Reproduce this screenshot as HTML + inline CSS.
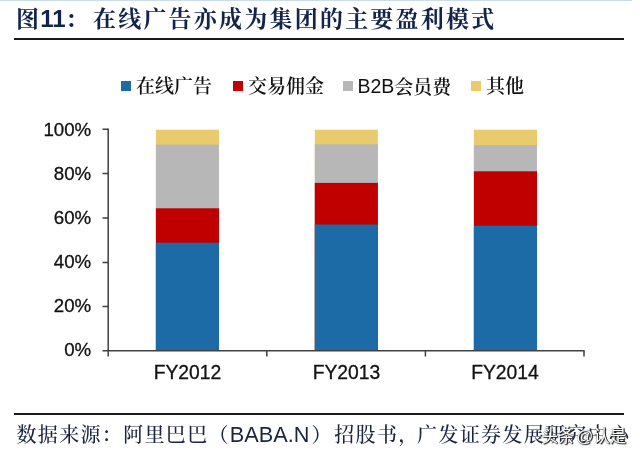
<!DOCTYPE html>
<html lang="zh-CN">
<head>
<meta charset="utf-8">
<title>图11：在线广告亦成为集团的主要盈利模式</title>
<style>
  html, body { margin: 0; padding: 0; background: #fff; }
  body { width: 640px; height: 458px; position: relative; overflow: hidden;
         font-family: "Liberation Sans", "Noto Serif CJK SC", serif; }
  .abs { position: absolute; white-space: nowrap; }
  .topband { left: 0; top: 0; width: 632px; height: 1px; background: #c9dde6; }
  .title { left: 16px; top: 3px; height: 32px; line-height: 32px; font-size: 23px; font-weight: 700;
           color: #13244c; letter-spacing: 2.22px; }
  .title .num { font-size: 24px; letter-spacing: 0; margin-left: -1px; }
  .title .col { margin-left: -0.4px; margin-right: 2.5px; }
  .rule { left: 13.5px; width: 610.5px; background: #1a1a1a; }
  .legend { top: 75px; height: 24px; line-height: 24px; font-size: 19px; font-weight: 600; color: #111; }
  .legend .en { font-size: 19.5px; font-weight: 400; position: relative; top: -1px; }
  .sw { width: 10px; height: 10px; top: 80.6px; }
  .ylab { width: 60px; left: 31.2px; text-align: right; font-size: 18.7px; -webkit-text-stroke: 0.3px #111; line-height: 20px; height: 20px; color: #111; }
  .xlab { width: 120px; text-align: center; font-size: 19.3px; -webkit-text-stroke: 0.3px #111; line-height: 22px; height: 22px; top: 362px; color: #111; }
  .seg { width: 63px; }
  .blue { background: #1c6ba6; } .red { background: #c00000; } .grey { background: #b7b7b7; } .yellow { background: #e9cb6d; }
  .src { left: 16.5px; top: 421px; height: 28px; line-height: 28px; font-size: 20px; letter-spacing: 1.33px; font-weight: 500; color: #1a2340; }
  .src .en { font-size: 21.7px; font-weight: 400; letter-spacing: 0; margin-right: 2px; }
  .src .rp { margin-right: 1.5px; }
  .src .cm { margin-right: -2.5px; }
  .wm { left: 541.5px; top: 425px; font-size: 16.5px; line-height: 22px; color: #fff; font-family: "Liberation Sans", "Noto Sans CJK SC", sans-serif;
        text-shadow: 1px 1px 1px #222, 0 0 1px #333, 1px 0 0 #555; letter-spacing: 0; }
</style>
</head>
<body>
<div class="abs topband"></div>
<div class="abs title">图<span class="num">11</span><span class="col">：</span>在线广告亦成为集团的主要盈利模式</div>
<div class="abs rule" style="top:38px;height:2px;"></div>

<!-- legend -->
<div class="abs sw blue" style="left:121.4px;"></div>
<div class="abs legend" style="left:136px;">在线广告</div>
<div class="abs sw red" style="left:233px;"></div>
<div class="abs legend" style="left:248px;">交易佣金</div>
<div class="abs sw grey" style="left:342.8px;"></div>
<div class="abs legend" style="left:357.5px;"><span class="en">B2B</span>会员费</div>
<div class="abs sw yellow" style="left:471px;"></div>
<div class="abs legend" style="left:486px;">其他</div>

<!-- chart -->

<div class="abs ylab" style="top:119.8px;">100%</div>
<div class="abs ylab" style="top:163.8px;">80%</div>
<div class="abs ylab" style="top:207.8px;">60%</div>
<div class="abs ylab" style="top:251.8px;">40%</div>
<div class="abs ylab" style="top:295.8px;">20%</div>
<div class="abs ylab" style="top:339.8px;">0%</div>


<svg class="abs" style="left:0;top:0;" width="640" height="458" viewBox="0 0 640 458">
  <g>
    <rect x="155.9" y="129.7" width="63.1" height="220.7" fill="#e9cb6d"/>
    <rect x="155.9" y="144.7" width="63.1" height="205.7" fill="#b7b7b7"/>
    <rect x="155.9" y="208.3" width="63.1" height="142.1" fill="#c00000"/>
    <rect x="155.9" y="242.7" width="63.1" height="107.7" fill="#1c6ba6"/>
    <rect x="314.8" y="129.7" width="63.1" height="220.7" fill="#e9cb6d"/>
    <rect x="314.8" y="144.3" width="63.1" height="206.1" fill="#b7b7b7"/>
    <rect x="314.8" y="182.9" width="63.1" height="167.5" fill="#c00000"/>
    <rect x="314.8" y="224.5" width="63.1" height="125.9" fill="#1c6ba6"/>
    <rect x="473.9" y="129.7" width="63.1" height="220.7" fill="#e9cb6d"/>
    <rect x="473.9" y="145.0" width="63.1" height="205.4" fill="#b7b7b7"/>
    <rect x="473.9" y="171.3" width="63.1" height="179.1" fill="#c00000"/>
    <rect x="473.9" y="225.7" width="63.1" height="124.7" fill="#1c6ba6"/>
  </g>
  <g stroke="#404040" stroke-width="1.5" fill="none">
    <path d="M108.2 128.5 V356.6"/>
    <path d="M102.5 350.8 H584.6"/>
    <path d="M102.5 129.2 H108.2 M102.5 173.6 H108.2 M102.5 218.1 H108.2 M102.5 262.4 H108.2 M102.5 306.6 H108.2"/>
    <path d="M266.8 350.8 V356.6 M425.4 350.8 V356.6 M584 350.8 V356.6"/>
  </g>
</svg>
<div class="abs xlab" style="left:127.5px;">FY2012</div>
<div class="abs xlab" style="left:286.5px;">FY2013</div>
<div class="abs xlab" style="left:445px;">FY2014</div>

<div class="abs rule" style="top:413px;height:1.5px;"></div>
<div class="abs src">数据来源：阿里巴巴（<span class="en">BABA.N</span><span class="rp">）</span>招股书<span class="cm">，</span>广发证券发展研究中心</div>
<div class="abs wm">头条<span style="margin-left:2px">@</span>认是</div>
</body>
</html>
